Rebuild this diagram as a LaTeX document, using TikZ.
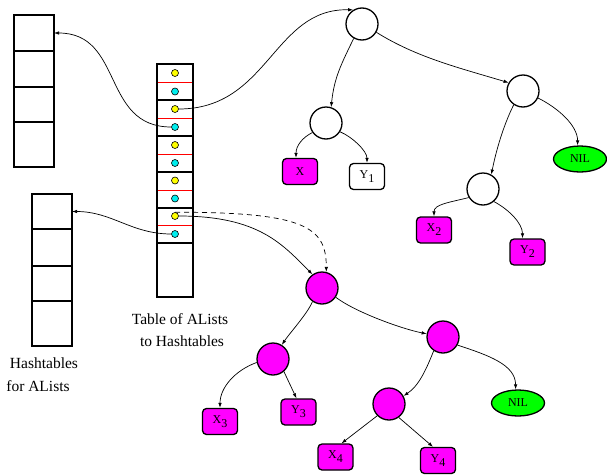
\documentclass[tikz,border=0pt]{standalone}
\usepackage{fontspec}
\setmainfont{Liberation Serif}
\usetikzlibrary{arrows.meta,shapes.geometric}
\definecolor{pinkfill}{RGB}{255,0,255}
\definecolor{aquafill}{RGB}{0,238,238}
\definecolor{sunfill}{RGB}{255,255,0}
\definecolor{limefill}{RGB}{0,255,0}
\definecolor{divred}{RGB}{255,0,0}
\begin{document}
\begin{tikzpicture}[x=1pt,y=-1pt,
  cell/.style={draw,line width=1.2pt,minimum width=40pt,inner sep=0pt,outer sep=0pt},
  slotgroup/.style={draw,line width=1.2pt,minimum width=36pt,inner sep=0pt,outer sep=0pt},
  divider/.style={divred,line width=0.8pt},
  dot/.style={circle,draw,line width=0.6pt,minimum size=7pt,inner sep=0pt},
  ydot/.style={dot,fill=sunfill},
  cdot/.style={dot,fill=aquafill},
  tnode/.style={circle,draw,line width=1.3pt,minimum size=32pt,inner sep=0pt},
  mnode/.style={tnode,fill=pinkfill},
  leaf/.style={rounded corners=4pt,draw,line width=1.3pt,minimum width=35pt,minimum height=26pt,inner sep=0pt,font=\fontsize{12}{12}\selectfont},
  mleaf/.style={leaf,fill=pinkfill},
  nilnode/.style={ellipse,draw,fill=limefill,line width=1.3pt,minimum width=53pt,minimum height=26pt,inner sep=0pt,font=\fontsize{12}{12}\selectfont},
  link/.style={line width=0.7pt,-{Latex[length=5pt,width=3.5pt]}},
  label/.style={font=\fontsize{15.5}{18}\selectfont,inner sep=0pt},
]
\useasboundingbox (0,0) rectangle (607,474);
\newcommand{\sub}[1]{\raisebox{-4pt}{#1}}

% hashtables for alists
\node[cell,minimum height=36pt] (ha1) at (34,33) {};
\node[cell,minimum height=36pt] (ha2) at (34,69) {};
\node[cell,minimum height=35pt] (ha3) at (34,104.5) {};
\node[cell,minimum height=45pt] (ha4) at (34,144.5) {};

\node[cell,minimum height=35pt] (hb1) at (52,211.5) {};
\node[cell,minimum height=37pt] (hb2) at (52,247.5) {};
\node[cell,minimum height=35pt] (hb3) at (52,283.5) {};
\node[cell,minimum height=45pt] (hb4) at (52,323.5) {};

% table of alists to hashtables
\node[slotgroup,minimum height=36pt] (g1) at (175,82) {};
\node[slotgroup,minimum height=36pt] (g2) at (175,118) {};
\node[slotgroup,minimum height=36pt] (g3) at (175,154) {};
\node[slotgroup,minimum height=36pt] (g4) at (175,190) {};
\node[slotgroup,minimum height=35pt] (g5) at (175,225.5) {};
\node[slotgroup,minimum height=54pt] (g6) at (175,270) {};
\foreach \g in {g1,g2,g3,g4,g5}
  \draw[divider] ([xshift=0.6pt]\g.west) -- ([xshift=-0.6pt]\g.east);

\node[ydot] (y1) at (175,73) {};
\node[cdot] (c1) at (175,91.5) {};
\node[ydot] (y2) at (175,109) {};
\node[cdot] (c2) at (175,127) {};
\node[ydot] (y3) at (175,145) {};
\node[cdot] (c3) at (175,163) {};
\node[ydot] (y4) at (175,180.5) {};
\node[cdot] (c4) at (175,198.5) {};
\node[ydot] (y5) at (175,216) {};
\node[cdot] (c5) at (175,234) {};

\node[label] (t1) at (180,319) {Table of ALists};
\node[label] (t2) at (182,341) {to Hashtables};
\node[label] (t3) at (44,363) {Hashtables};
\node[label] (t4) at (38,386) {for ALists};

% first tree
\node[tnode] (r1) at (362,24) {};
\node[tnode] (a1) at (326,123) {};
\node[tnode] (b1) at (523,91) {};
\node[tnode] (d1) at (483,189) {};
\node[mleaf] (lx) at (300,171.5) {X};
\node[leaf] (ly1) at (367,176.5) {Y\sub{1}};
\node[mleaf] (lx2) at (434,230) {X\sub{2}};
\node[mleaf] (ly2) at (527.5,252) {Y\sub{2}};
\node[nilnode] (nil1) at (580,159) {NIL};

% second tree
\node[mnode] (m1) at (322,288) {};
\node[mnode] (m2) at (273,359) {};
\node[mnode] (m3) at (443,337) {};
\node[mnode] (m4) at (389,404) {};
\node[mleaf] (lx3) at (220,421.5) {X\sub{3}};
\node[mleaf] (ly3) at (298.5,412) {Y\sub{3}};
\node[mleaf] (lx4) at (335.5,457) {X\sub{4}};
\node[mleaf] (ly4) at (438,460.5) {Y\sub{4}};
\node[nilnode] (nil2) at (518,403) {NIL};

% pointers from the table
\draw[link] (c2.west) .. controls +(-70,0) and +(70,0) .. (ha1.east);
\draw[link] (c5.west) .. controls +(-40,0) and +(40,0) .. (hb1.east);
\draw[link] (y2.east) .. controls +(90,0) and +(-80,-2) .. (r1.122);
\draw[link] (y5.east) .. controls +(80,0) and +(-30,-30) .. (m1.125);
\draw[link,dashed,dash pattern=on 5pt off 4pt] (y5.north) .. controls +(130,0) and +(0,-45) .. (m1.75);

% first tree edges
\draw[link] (r1.240) .. controls +(-12,25) and +(3,-30) .. (a1.72);
\draw[link] (r1.-30) .. controls +(40,25) and +(-50,-15) .. (b1.150);
\draw[link] (a1.215) .. controls +(-10,5) and +(0,-12) .. ([xshift=-4pt]lx.north);
\draw[link] (a1.-32) .. controls +(12,5) and +(0,-12) .. (ly1.north);
\draw[link] (b1.236) .. controls +(-10,20) and +(5,-25) .. (d1.60);
\draw[link] (b1.-25) .. controls +(20,10) and +(0,-20) .. (nil1.100);
\draw[link] (d1.211) .. controls +(-20,5) and +(0,-12) .. (lx2.north);
\draw[link] (d1.-49) .. controls +(15,8) and +(0,-15) .. ([xshift=-5pt]ly2.north);

% second tree edges
\draw[link] (m1.235) .. controls +(-5,12) and +(8,-12) .. (m2.58);
\draw[link] (m1.-34) .. controls +(20,15) and +(-25,-5) .. (m3.169);
\draw[link] (m2.192) .. controls +(-22,8) and +(0,-20) .. (lx3.north);
\draw[link] (m2.-49) -- ([xshift=-2pt]ly3.north);
\draw[link] (m3.236) .. controls +(-8,20) and +(15,-10) .. (m4.29);
\draw[link] (m3.-29) .. controls +(30,10) and +(0,-25) .. (nil2.100);
\draw[link] (m4.225) -- ([xshift=6pt]lx4.north);
\draw[link] (m4.-54) -- ([xshift=-5pt]ly4.north);
\end{tikzpicture}
\end{document}
